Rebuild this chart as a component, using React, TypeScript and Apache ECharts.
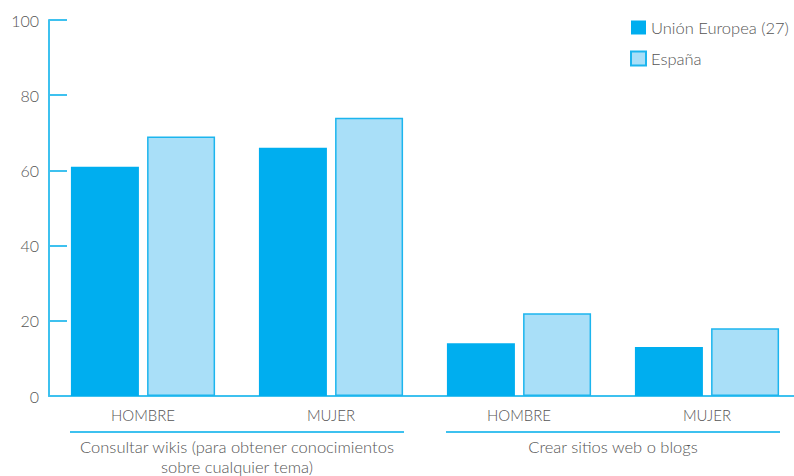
import React, { useEffect, useRef } from "react";
import * as echarts from "echarts";

const categories = ["HOMBRE", "MUJER", "HOMBRE", "MUJER"];
const groups = ["Consultar wikis (para obtener conocimientos\nsobre cualquier tema)", "Crear sitios web o blogs"];
const groupSpans = [[0, 1], [2, 3]];
const seriesNames = ["Unión Europea (27)", "España"];
const ueValues = [61, 66, 14, 13];
const espValues = [69, 74, 22, 18];
const yTicks = [0, 20, 40, 60, 80, 100];

const FONT = "Lato, 'Open Sans', sans-serif";
const AXIS = "#3ec1ef";
const TEXT = "#555555";

export default function App() {
  const ref = useRef<HTMLDivElement>(null);
  useEffect(() => {
    document.body.style.margin = "0";
    document.body.style.overflow = "hidden";
    document.documentElement.style.overflow = "hidden";
    const chart = echarts.init(ref.current!, null, { renderer: "svg" });
    chart.setOption({
      animation: false,
      textStyle: { fontFamily: FONT },
      legend: {
        orient: "vertical",
        left: 625,
        top: 14,
        itemWidth: 15,
        itemHeight: 14,
        itemGap: 14,
        icon: "rect",
        textStyle: { fontSize: 16.5, color: TEXT, fontFamily: FONT, fontWeight: 300 },
        data: seriesNames,
      },
      grid: { left: 49, top: 20, width: 752, height: 376, containLabel: false, outerBoundsMode: "none" },
      xAxis: [
        {
          type: "category",
          data: categories,
          axisLine: { lineStyle: { color: AXIS, width: 2 } },
          axisTick: { inside: true, length: 9, lineStyle: { color: AXIS, width: 2 } },
          axisLabel: { margin: 11, fontSize: 15, color: TEXT, fontFamily: FONT, fontWeight: 300, interval: 0 },
        },
        {
          type: "category",
          data: groups,
          position: "bottom",
          offset: 38,
          axisLine: { show: false },
          axisTick: { show: false },
          axisLabel: { margin: 3, fontSize: 16.5, lineHeight: 20, color: TEXT, fontFamily: FONT, fontWeight: 300, interval: 0 },
        },
      ],
      yAxis: {
        type: "value",
        min: 0,
        max: 100,
        interval: 20,
        axisLine: { show: true, lineStyle: { color: AXIS, width: 2 } },
        axisTick: { show: true, inside: true, length: 18, lineStyle: { color: AXIS, width: 2 } },
        splitLine: { show: false },
        axisLabel: {
          margin: 10,
          fontSize: 16,
          color: TEXT,
          fontFamily: FONT,
          fontWeight: 300,
          formatter: (v: number) => (yTicks.includes(v) ? String(v) : ""),
        },
      },
      series: [
        {
          name: seriesNames[0],
          type: "bar",
          data: ueValues,
          barWidth: 68,
          barGap: "12%",
          itemStyle: { color: "#00aeef" },
        },
        {
          name: seriesNames[1],
          type: "bar",
          data: espValues,
          barWidth: 68,
          itemStyle: { color: "#a9dff8", borderColor: "#1cb5ee", borderWidth: 1.5 },
        },
      ],
    });
    const lines = groupSpans.map(([a, b]) => {
      const pa = chart.convertToPixel({ xAxisIndex: 0 }, a) as number;
      const pb = chart.convertToPixel({ xAxisIndex: 0 }, b) as number;
      const y = chart.convertToPixel({ yAxisIndex: 0 }, 0) as number;
      return {
        type: "line",
        shape: { x1: pa - 73, y1: y + 36, x2: pb + 73, y2: y + 36 },
        style: { stroke: AXIS, lineWidth: 2 },
      };
    });
    chart.setOption({ graphic: lines });
    return () => chart.dispose();
  }, []);
  return <div ref={ref} style={{ width: 794, height: 476, overflow: "hidden" }} />;
}
